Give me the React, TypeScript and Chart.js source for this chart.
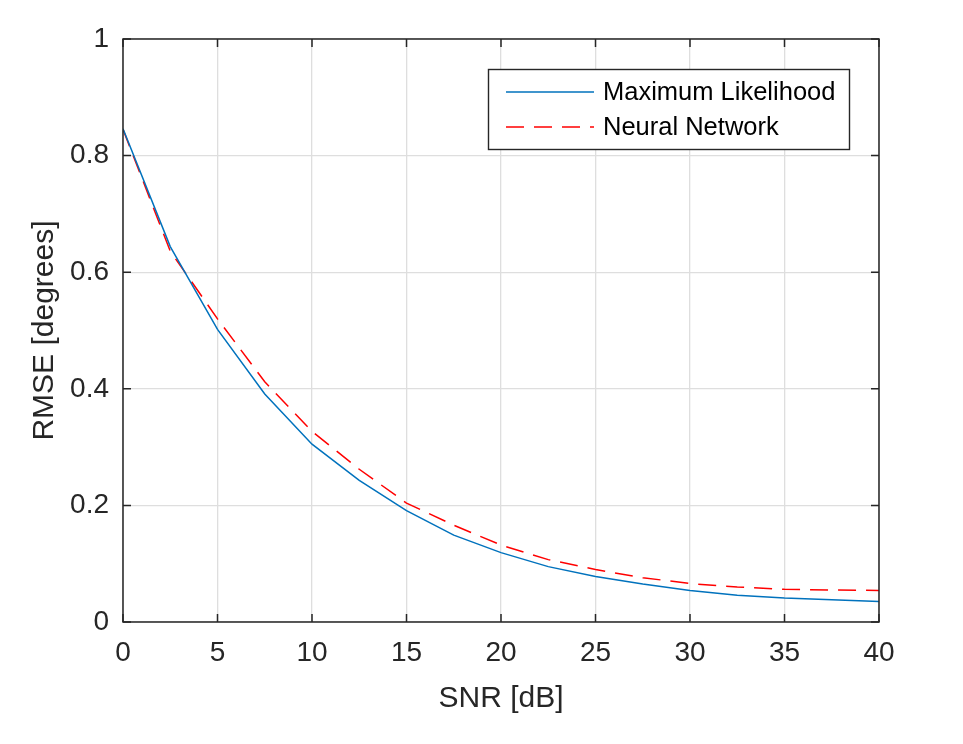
import React, { useEffect, useRef } from "react";
import { Chart, registerables } from "chart.js";

Chart.register(...registerables);

const snr = [0, 2.5, 5, 7.5, 10, 12.5, 15, 17.5, 20, 22.5, 25, 27.5, 30, 32.5, 35, 37.5, 40];
const maxLikelihood = [0.846, 0.644, 0.502, 0.391, 0.305, 0.243, 0.191, 0.149, 0.119, 0.095, 0.078, 0.065, 0.054, 0.046, 0.041, 0.038, 0.035];
const neuralNetwork = [0.845, 0.636, 0.520, 0.412, 0.327, 0.262, 0.204, 0.166, 0.132, 0.107, 0.090, 0.076, 0.066, 0.060, 0.056, 0.055, 0.054];
const seriesLabels = ["Maximum Likelihood", "Neural Network"];
const xTitle = "SNR [dB]";
const yTitle = "RMSE [degrees]";

const FONT = "'Liberation Sans', Arial, sans-serif";
const INK = "#262626";

const framePlugin = {
  id: "frameAndLegend",
  afterDraw(chart: any) {
    const { ctx, chartArea } = chart;
    const { left, right, top, bottom } = chartArea;
    const xs = chart.scales.x;
    const ys = chart.scales.y;
    ctx.save();
    ctx.strokeStyle = INK;
    ctx.lineWidth = 1.5;
    ctx.strokeRect(left, top, right - left, bottom - top);
    const tl = 8;
    ctx.beginPath();
    xs.ticks.forEach((t: any) => {
      const px = xs.getPixelForValue(t.value);
      ctx.moveTo(px, bottom);
      ctx.lineTo(px, bottom - tl);
      ctx.moveTo(px, top);
      ctx.lineTo(px, top + tl);
    });
    ys.ticks.forEach((t: any) => {
      const py = ys.getPixelForValue(t.value);
      ctx.moveTo(left, py);
      ctx.lineTo(left + tl, py);
      ctx.moveTo(right, py);
      ctx.lineTo(right - tl, py);
    });
    ctx.stroke();

    // legend
    const bx = 488.5, by = 69.5, bw = 361, bh = 80;
    ctx.fillStyle = "#ffffff";
    ctx.fillRect(bx, by, bw, bh);
    ctx.lineWidth = 1.4;
    ctx.strokeStyle = INK;
    ctx.strokeRect(bx, by, bw, bh);
    const rows = [92, 127];
    chart.data.datasets.forEach((ds: any, i: number) => {
      const y = rows[i];
      ctx.beginPath();
      ctx.strokeStyle = ds.borderColor;
      ctx.lineWidth = ds.borderWidth;
      ctx.setLineDash(ds.borderDash || []);
      ctx.moveTo(506, y);
      ctx.lineTo(594, y);
      ctx.stroke();
      ctx.setLineDash([]);
      ctx.fillStyle = "#000000";
      ctx.font = `25.5px ${FONT}`;
      ctx.textBaseline = "middle";
      ctx.textAlign = "left";
      ctx.fillText(ds.label, 603, y + 1);
    });
    ctx.restore();
  },
};

export default function App() {
  const ref = useRef<HTMLCanvasElement | null>(null);
  useEffect(() => {
    document.body.style.margin = "0";
    const canvas = ref.current;
    if (!canvas) return;
    const chart = new Chart(canvas, {
      type: "line",
      data: {
        datasets: [
          {
            label: seriesLabels[0],
            data: snr.map((x, i) => ({ x, y: maxLikelihood[i] })),
            borderColor: "#0072BD",
            borderWidth: 1.5,
            pointRadius: 0,
            tension: 0,
            fill: false,
          },
          {
            label: seriesLabels[1],
            data: snr.map((x, i) => ({ x, y: neuralNetwork[i] })),
            borderColor: "#FF0000",
            borderWidth: 1.5,
            borderDash: [18, 10],
            pointRadius: 0,
            tension: 0,
            fill: false,
          },
        ],
      },
      options: {
        animation: false,
        responsive: false,
        devicePixelRatio: 1,
        layout: { padding: { left: 0, top: 39, right: 84, bottom: 0 } },
        plugins: {
          legend: { display: false },
          tooltip: { enabled: false },
        },
        scales: {
          x: {
            type: "linear",
            min: 0,
            max: 40,
            afterFit: (s: any) => {
              s.height = 122;
            },
            ticks: {
              stepSize: 5,
              color: INK,
              font: { family: FONT, size: 28 },
              padding: 14,
              maxRotation: 0,
            },
            grid: { color: "#dedede", lineWidth: 1.3, drawTicks: false },
            border: { display: false },
            title: {
              display: true,
              text: xTitle,
              color: INK,
              font: { family: FONT, size: 30 },
              padding: { top: 0, bottom: 27 },
            },
          },
          y: {
            type: "linear",
            min: 0,
            max: 1,
            afterFit: (s: any) => {
              s.width = 123;
            },
            ticks: {
              stepSize: 0.2,
              color: INK,
              font: { family: FONT, size: 28 },
              padding: 14,
              callback: (v: any) => String(Number(Number(v).toFixed(1))),
            },
            grid: { color: "#dedede", lineWidth: 1.3, drawTicks: false },
            border: { display: false },
            title: {
              display: true,
              text: yTitle,
              color: INK,
              font: { family: FONT, size: 30 },
              padding: { top: 27, bottom: 0 },
            },
          },
        },
      },
      plugins: [framePlugin],
    });
    return () => chart.destroy();
  }, []);
  return (
    <div style={{ position: "absolute", left: 0, top: 0, width: 963, height: 744, background: "#fff" }}>
      <canvas ref={ref} width={963} height={744} />
    </div>
  );
}
